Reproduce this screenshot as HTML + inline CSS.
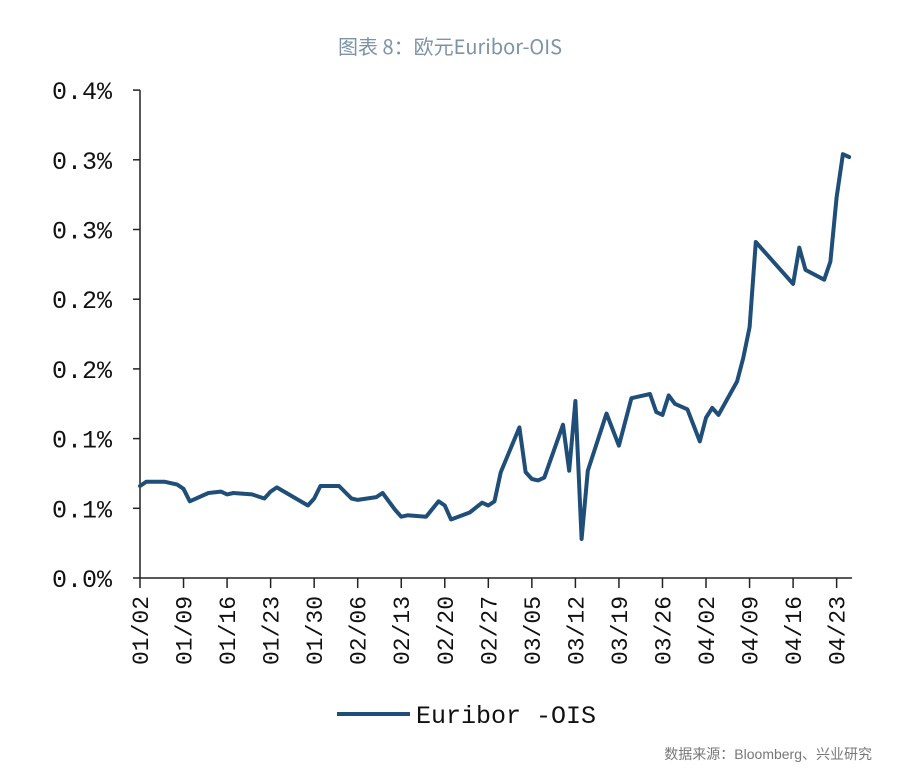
<!DOCTYPE html>
<html><head><meta charset="utf-8">
<style>
html,body{margin:0;padding:0;background:#fff;}
body{width:900px;height:777px;position:relative;overflow:hidden;font-family:"Liberation Sans","Noto Sans CJK SC",sans-serif;}
#title{position:absolute;left:0;width:900px;top:31px;text-align:center;font-size:20px;color:#7d93a8;font-weight:normal;font-family:"Noto Sans CJK SC","Liberation Sans",sans-serif;}
#source{position:absolute;right:28px;top:744px;font-size:14px;color:#777;}
svg text{font-family:"Liberation Mono","DejaVu Sans Mono",monospace;}
</style></head>
<body>
<div id="title">图表 8：欧元Euribor-OIS</div>
<svg id="chart" width="900" height="777" style="position:absolute;left:0;top:0"></svg>
<div id="source">数据来源：Bloomberg、兴业研究</div>
<script>
const tickLabels = ["01/02","01/09","01/16","01/23","01/30","02/06","02/13","02/20","02/27","03/05","03/12","03/19","03/26","04/02","04/09","04/16","04/23"];
const yTickValues = [0,0.05,0.1,0.15,0.2,0.25,0.3,0.35];
const yTickLabels = ["0.0%","0.1%","0.1%","0.2%","0.2%","0.3%","0.3%","0.4%"];
const days = [0,1,4,6,7,8,11,13,14,15,18,20,21,22,27,28,29,32,34,35,38,39,41,42,43,46,48,49,50,53,55,56,57,58,61,62,63,64,65,68,69,70,71,72,75,77,79,82,83,84,85,86,88,90,91,92,93,96,97,98,99,105,106,107,110,111,112,113,114];
const values = [.066,.069,.069,.067,.064,.055,.061,.062,.060,.061,.060,.057,.062,.065,.052,.057,.066,.066,.057,.056,.058,.061,.049,.044,.045,.044,.055,.052,.042,.047,.054,.052,.055,.076,.108,.076,.071,.070,.072,.110,.077,.127,.028,.077,.118,.095,.129,.132,.119,.117,.131,.125,.121,.098,.115,.122,.117,.141,.158,.180,.241,.211,.237,.221,.214,.227,.273,.304,.302];

const svg = document.getElementById('chart');
const NS = 'http://www.w3.org/2000/svg';
const x0 = 140, y0 = 578, pxPerDay = 6.22, pxPerUnit = 1394;
function xScale(d){ return x0 + d * pxPerDay; }
function yScale(v){ return y0 - v * pxPerUnit; }
function mk(tag, attrs){ const e = document.createElementNS(NS, tag); for (const k in attrs) e.setAttribute(k, attrs[k]); svg.appendChild(e); return e; }

const yAxis = mk('line',{x1:x0,y1:yScale(0.35),x2:x0,y2:y0,stroke:'#222','stroke-width':1.5});


const xAxis = mk('line',{x1:x0,y1:y0,x2:852,y2:y0,stroke:'#222','stroke-width':1.5});



yTickValues.forEach((v,i)=>{
  const y = yScale(v);
  mk('line',{x1:x0-7,y1:y,x2:x0,y2:y,stroke:'#222','stroke-width':1.5});
  const t = mk('text',{x:112,y:y+9,'text-anchor':'end','font-size':25,fill:'#111'});
  t.textContent = yTickLabels[i];
  
  
});
tickLabels.forEach((lab,i)=>{
  const x = xScale(i*7);
  mk('line',{x1:x,y1:y0,x2:x,y2:y0+10,stroke:'#222','stroke-width':1.5});
  const t = mk('text',{x:0,y:0,'text-anchor':'end','font-size':23,fill:'#111',transform:`translate(${x+8},596) rotate(-90)`});
  t.textContent = lab;
  
  
});
const pts = days.map((d,i)=>xScale(d).toFixed(1)+','+yScale(values[i]).toFixed(1)).join(' ');
const line = mk('polyline',{points:pts,fill:'none',stroke:'#1f4e79','stroke-width':4,'stroke-linejoin':'round','stroke-linecap':'round'});



const lg = mk('line',{x1:337,y1:714,x2:410,y2:714,stroke:'#1f4e79','stroke-width':4});


const lt = mk('text',{x:416,y:723,'font-size':25,fill:'#111'});
lt.textContent = 'Euribor -OIS';


</script>
</body></html>
